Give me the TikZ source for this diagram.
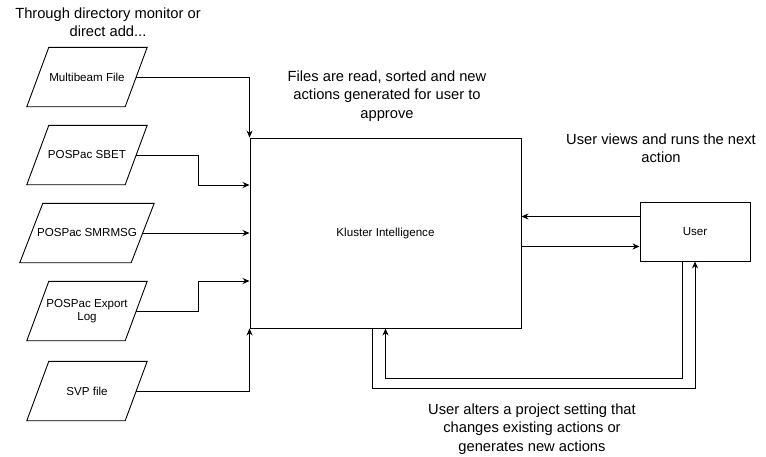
\documentclass[tikz,border=0pt]{standalone}
\usepackage{fontspec}
\setmainfont{Liberation Sans}
\usetikzlibrary{arrows.meta}
\tikzset{
  para/.style={minimum height=59pt, inner sep=0pt, align=center, font=\fontsize{11.6}{13.5}\selectfont},
  boxnode/.style={draw, line width=0.9pt, inner sep=0pt, font=\fontsize{11.6}{13.5}\selectfont},
  note/.style={align=center, inner sep=0pt, font=\fontsize{14.7}{18.5}\selectfont},
  arr/.style={draw, line width=0.9pt, -{Stealth[length=7pt,width=6pt]}},
  ln/.style={draw, line width=0.9pt},
}
\newcommand\parashape[2]{\draw[line width=0.9pt] ([xshift=#2]#1.north west) -- ([xshift=#2]#1.north east) -- ([xshift=-#2]#1.south east) -- ([xshift=-#2]#1.south west) -- cycle;}
\begin{document}
\begin{tikzpicture}[x=1pt,y=-1pt]
\useasboundingbox[fill=white] (0,0) rectangle (766,456);
% inputs
\node[para, minimum width=98pt] (mb) at (87,77) {Multibeam File};
\node[para, minimum width=98pt] (sb) at (87,155) {POSPac SBET};
\node[para, minimum width=111pt] (sm) at (87,233) {POSPac SMRMSG};
\node[para, minimum width=98pt] (el) at (87,311) {POSPac Export\\Log};
\node[para, minimum width=98pt] (sv) at (87,391) {SVP file};
\parashape{mb}{11pt}
\parashape{sb}{11pt}
\parashape{sm}{11.5pt}
\parashape{el}{11pt}
\parashape{sv}{11pt}
% main boxes
\node[boxnode, minimum width=271pt, minimum height=190pt] (K) at (385.5,233) {Kluster Intelligence};
\node[boxnode, minimum width=110pt, minimum height=59pt] (U) at (695,231.5) {User};
% notes
\node[note] (n1) at (108,22) {Through directory monitor or\\direct add...};
\node[note] (n2) at (387,96) {Files are read, sorted and new\\actions generated for user to\\approve};
\node[note] (n3) at (661,148) {User views and runs the next\\action};
\node[note] (n4) at (532,429) {User alters a project setting that\\changes existing actions or\\generates new actions};
% connectors
\draw[arr] (mb.east) -| (K.north west);
\draw[arr] (sb.east) -- ++(62,0) |- ([yshift=48pt]K.west);
\draw[arr] (sm.east) -- (K.west);
\draw[arr] (el.east) -- ++(62,0) |- ([yshift=-48pt]K.west);
\draw[arr] (sv.east) -| (K.south west);
\draw[arr] ([yshift=15pt]U.west) -- ([yshift=15pt]U.west -| K.east);
\draw[arr] ([yshift=-15pt]U.west -| K.east) -- ([yshift=-15pt]U.west);
\coordinate (c1) at (0,378);
\coordinate (c2) at (0,388);
\draw[arr] ([xshift=-13pt]U.south) -- ([xshift=-13pt]U.south |- c1) -| (K.south);
\draw[arr] ([xshift=-13pt]K.south) -- ([xshift=-13pt]K.south |- c2) -| (U.south);
\end{tikzpicture}
\end{document}
